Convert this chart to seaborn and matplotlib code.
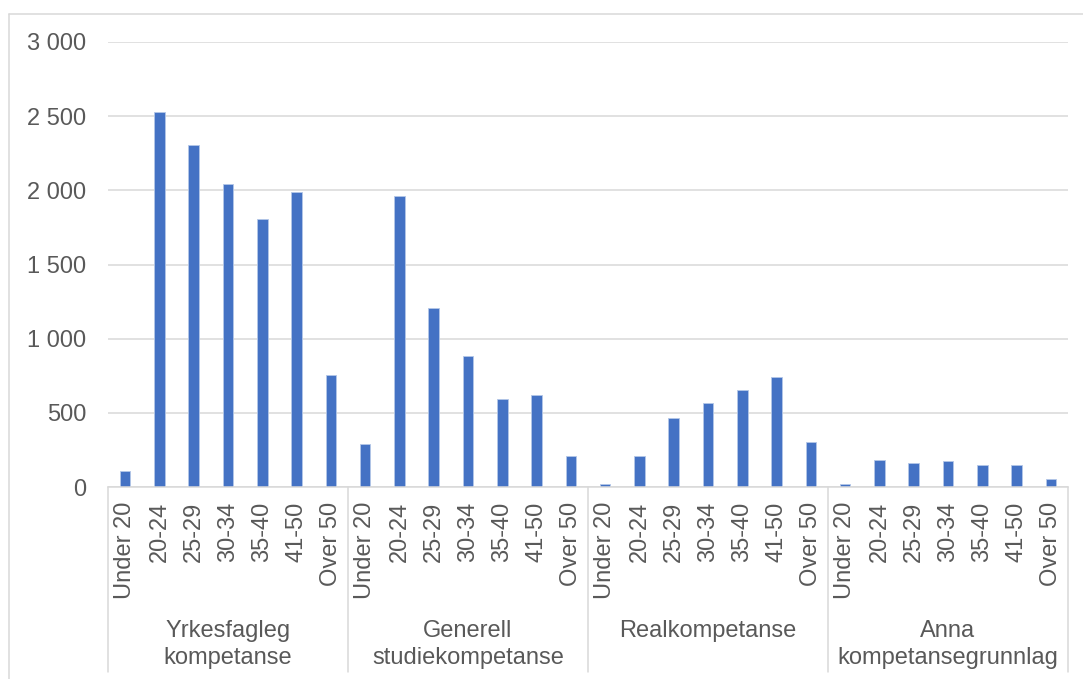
import pandas as pd
import matplotlib
matplotlib.use("Agg")
import matplotlib.pyplot as plt
import matplotlib.transforms as mtransforms
from matplotlib.ticker import FuncFormatter, MultipleLocator
from matplotlib.lines import Line2D
import seaborn as sns

# Data
groups = ["Yrkesfagleg\nkompetanse", "Generell\nstudiekompetanse", "Realkompetanse", "Anna\nkompetansegrunnlag"]
ages = ["Under 20", "20-24", "25-29", "30-34", "35-40", "41-50", "Over 50"]
yrkesfagleg = [106, 2529, 2304, 2045, 1807, 1989, 752]
generell = [290, 1962, 1208, 880, 590, 617, 212]
realkompetanse = [20, 212, 468, 565, 651, 740, 302]
anna = [23, 180, 162, 173, 146, 151, 52]

values = [yrkesfagleg, generell, realkompetanse, anna]
rows = []
for g, vals in zip(groups, values):
    for a, v in zip(ages, vals):
        rows.append({"key": g + "|" + a, "group": g, "age": a, "value": v})
df = pd.DataFrame(rows)

sns.set_style("white")
plt.rcParams["font.family"] = ["Liberation Sans", "DejaVu Sans"]
text_color = "#595959"
grid_color = "#D9D9D9"
fs = 17

W, H = 1083, 679
fig = plt.figure(figsize=(W / 100, H / 100), dpi=100)
ax = fig.add_axes([108 / W, (H - 487) / H, (1068 - 108) / W, (487 - 42) / H])

sns.barplot(data=df, x="key", y="value", color="#4472C4", saturation=1, width=0.31,
            edgecolor="#b4c7e7", linewidth=0.6, ax=ax)

ax.set_ylim(0, 3000)
ax.set_xlim(-0.5, len(df) - 0.5)
ax.yaxis.set_major_locator(MultipleLocator(500))
ax.yaxis.set_major_formatter(FuncFormatter(lambda v, p: f"{int(v):,}".replace(",", " ")))
ax.grid(axis="y", color=grid_color, linewidth=1.1)
ax.set_axisbelow(True)
for s in ["top", "right", "left"]:
    ax.spines[s].set_visible(False)
ax.spines["bottom"].set_color(grid_color)
ax.spines["bottom"].set_linewidth(1.1)

ax.set_xlabel("")
ax.set_ylabel("")
ax.set_xticks(range(len(df)))
ax.set_xticklabels(df["age"], rotation=90, va="top", ha="center")
ax.tick_params(axis="x", length=0, pad=10.5, labelsize=fs, labelcolor=text_color)
ax.tick_params(axis="y", length=0, pad=15.5, labelsize=fs, labelcolor=text_color)

# group separators and labels below the axis
trans = mtransforms.blended_transform_factory(ax.transData, ax.transAxes)
ax_h = 487 - 42
sep_bottom = -(672 - 487) / ax_h
for i in range(len(groups) + 1):
    xpos = i * len(ages) - 0.5
    ax.plot([xpos, xpos], [0, sep_bottom], transform=trans, color=grid_color,
            linewidth=1.1, clip_on=False)
for i, g in enumerate(groups):
    ax.text(i * len(ages) + (len(ages) - 1) / 2, -(620 - 487) / ax_h, g, transform=trans,
            ha="center", va="top", fontsize=fs, color=text_color, linespacing=1.32)

# outer chart border
fig.add_artist(Line2D([9 / W, 9 / W], [0, (H - 14) / H], color=grid_color, linewidth=1.1))
fig.add_artist(Line2D([9 / W, 1], [(H - 14) / H, (H - 14) / H], color=grid_color, linewidth=1.1))

fig.savefig("out.png", dpi=100, facecolor="white")
